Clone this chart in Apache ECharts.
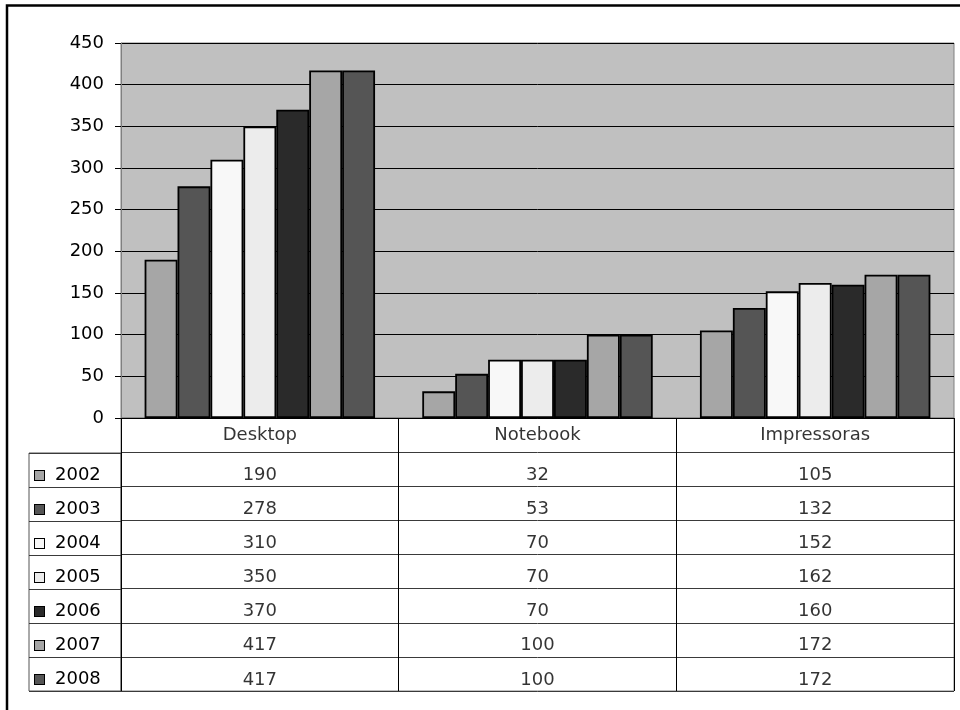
<!DOCTYPE html>
<html>
<head>
<meta charset="utf-8">
<script src="https://cdn.jsdelivr.net/npm/echarts@6/dist/echarts.min.js"></script>
<style>
  html, body { margin: 0; padding: 0; background: #ffffff; }
  #chart { width: 960px; height: 710px; }
</style>
</head>
<body>
<div id="chart"></div>
<script>
// Product categories and yearly values
const categories = ['Desktop', 'Notebook', 'Impressoras'];
const years = ['2002', '2003', '2004', '2005', '2006', '2007', '2008'];
const v2002 = [190, 32, 105];
const v2003 = [278, 53, 132];
const v2004 = [310, 70, 152];
const v2005 = [350, 70, 162];
const v2006 = [370, 70, 160];
const v2007 = [417, 100, 172];
const v2008 = [417, 100, 172];
const yearValues = [v2002, v2003, v2004, v2005, v2006, v2007, v2008];
const yearColors = ['#a6a6a6', '#555555', '#f8f8f8', '#ececec', '#2a2a2a', '#a6a6a6', '#555555'];
const yTicks = { min: 0, max: 450, step: 50 };

const FONT = 'DejaVu Sans';
const FS = 18;
const chart = echarts.init(document.getElementById('chart'), null, { renderer: 'canvas' });

// bar series, one per year
const barSeries = years.map((y, i) => ({
  name: y,
  type: 'bar',
  xAxisIndex: 0,
  yAxisIndex: 0,
  data: yearValues[i],
  barGap: '0%',
  barCategoryGap: '17%',
  itemStyle: { color: yearColors[i], borderColor: '#000', borderWidth: 1.8 },
  silent: true
}));

// data table cells: row 0 holds category names, rows 1..7 the yearly values
const headerCells = categories.map((c, ci) => ({ value: [ci, 0, c] }));
const valueCells = [];
years.forEach((y, ri) => {
  categories.forEach((c, ci) => {
    valueCells.push({ value: [ci, ri + 1, String(yearValues[ri][ci])] });
  });
});

const tableRows = ['head'].concat(years);

// legend column rich-text keys
const rich = {};
years.forEach((y, i) => {
  rich['b' + i] = {
    width: 9, height: 9,
    backgroundColor: yearColors[i],
    borderColor: '#000', borderWidth: 1
  };
});
rich.t = { fontFamily: FONT, fontSize: FS, color: '#000', padding: [0, 0, 0, 11] };

const option = {
  animation: false,
  backgroundColor: '#ffffff',
  textStyle: { fontFamily: FONT },
  grid: [
    { // plot area
      left: 121, top: 43, width: 833, height: 375,
      show: true, backgroundColor: '#c0c0c0', borderColor: '#808080', borderWidth: 1,
      containLabel: false
    },
    { // data table
      left: 121, top: 418, width: 833, height: 273,
      show: true, backgroundColor: 'transparent', borderColor: '#808080', borderWidth: 1,
      containLabel: false
    },
    { // legend column
      left: 29, top: 453, width: 92, height: 238,
      show: true, backgroundColor: 'transparent', borderColor: '#555', borderWidth: 1,
      containLabel: false
    }
  ],
  xAxis: [
    {
      gridIndex: 0, type: 'category', data: categories,
      axisLine: { show: true, lineStyle: { color: '#000', width: 1 } },
      axisTick: { show: false }, axisLabel: { show: false }, splitLine: { show: false }
    },
    {
      gridIndex: 1, type: 'category', data: categories, boundaryGap: true,
      axisLine: { show: false }, axisTick: { show: false }, axisLabel: { show: false },
      splitLine: { show: true, interval: 0, lineStyle: { color: '#000', width: 1 } }
    },
    {
      gridIndex: 2, type: 'value', show: false, min: 0, max: 1
    }
  ],
  yAxis: [
    {
      gridIndex: 0, type: 'value', min: yTicks.min, max: yTicks.max, interval: yTicks.step,
      axisLine: { show: true, lineStyle: { color: '#808080', width: 1 } },
      axisTick: { show: true, length: 6, lineStyle: { color: '#000' } },
      axisLabel: { color: '#000', fontSize: FS, fontFamily: FONT, margin: 17 },
      splitLine: { show: true, lineStyle: { color: '#000', width: 1 } }
    },
    {
      gridIndex: 1, type: 'category', data: tableRows, inverse: true, boundaryGap: true,
      axisLine: { show: false }, axisTick: { show: false }, axisLabel: { show: false },
      splitLine: { show: true, interval: 0, lineStyle: { color: '#3a3a3a', width: 1 } }
    },
    {
      gridIndex: 2, type: 'category', data: years, inverse: true, boundaryGap: true,
      axisLine: { show: false }, axisTick: { show: false },
      axisLabel: {
        show: true, inside: true, margin: 6, interval: 0,
        padding: [11, 0, 0, 0],
        formatter: (val, idx) => '{b' + idx + '|}{t|' + val + '}',
        rich: rich
      },
      splitLine: { show: true, interval: 0, lineStyle: { color: '#3a3a3a', width: 1 } }
    }
  ],
  series: barSeries.concat([
    {
      name: 'table-header', type: 'scatter', xAxisIndex: 1, yAxisIndex: 1,
      symbolSize: 0, silent: true,
      data: headerCells,
      label: {
        show: true, position: 'inside', color: '#000', fontSize: FS, fontFamily: FONT,
        formatter: p => p.value[2]
      }
    },
    {
      name: 'table-values', type: 'scatter', xAxisIndex: 1, yAxisIndex: 1,
      symbolSize: 0, silent: true,
      data: valueCells,
      label: {
        show: true, position: 'inside', color: '#000', fontSize: FS, fontFamily: FONT,
        offset: [0, 6],
        formatter: p => p.value[2]
      }
    }
  ]),
  graphic: [
    { // chart frame
      type: 'rect', silent: true, z: 100,
      shape: { x: 7, y: 5.5, width: 980, height: 730 },
      style: { fill: 'none', stroke: '#000', lineWidth: 2.5 }
    }
  ]
};

chart.setOption(option);
</script>
</body>
</html>
